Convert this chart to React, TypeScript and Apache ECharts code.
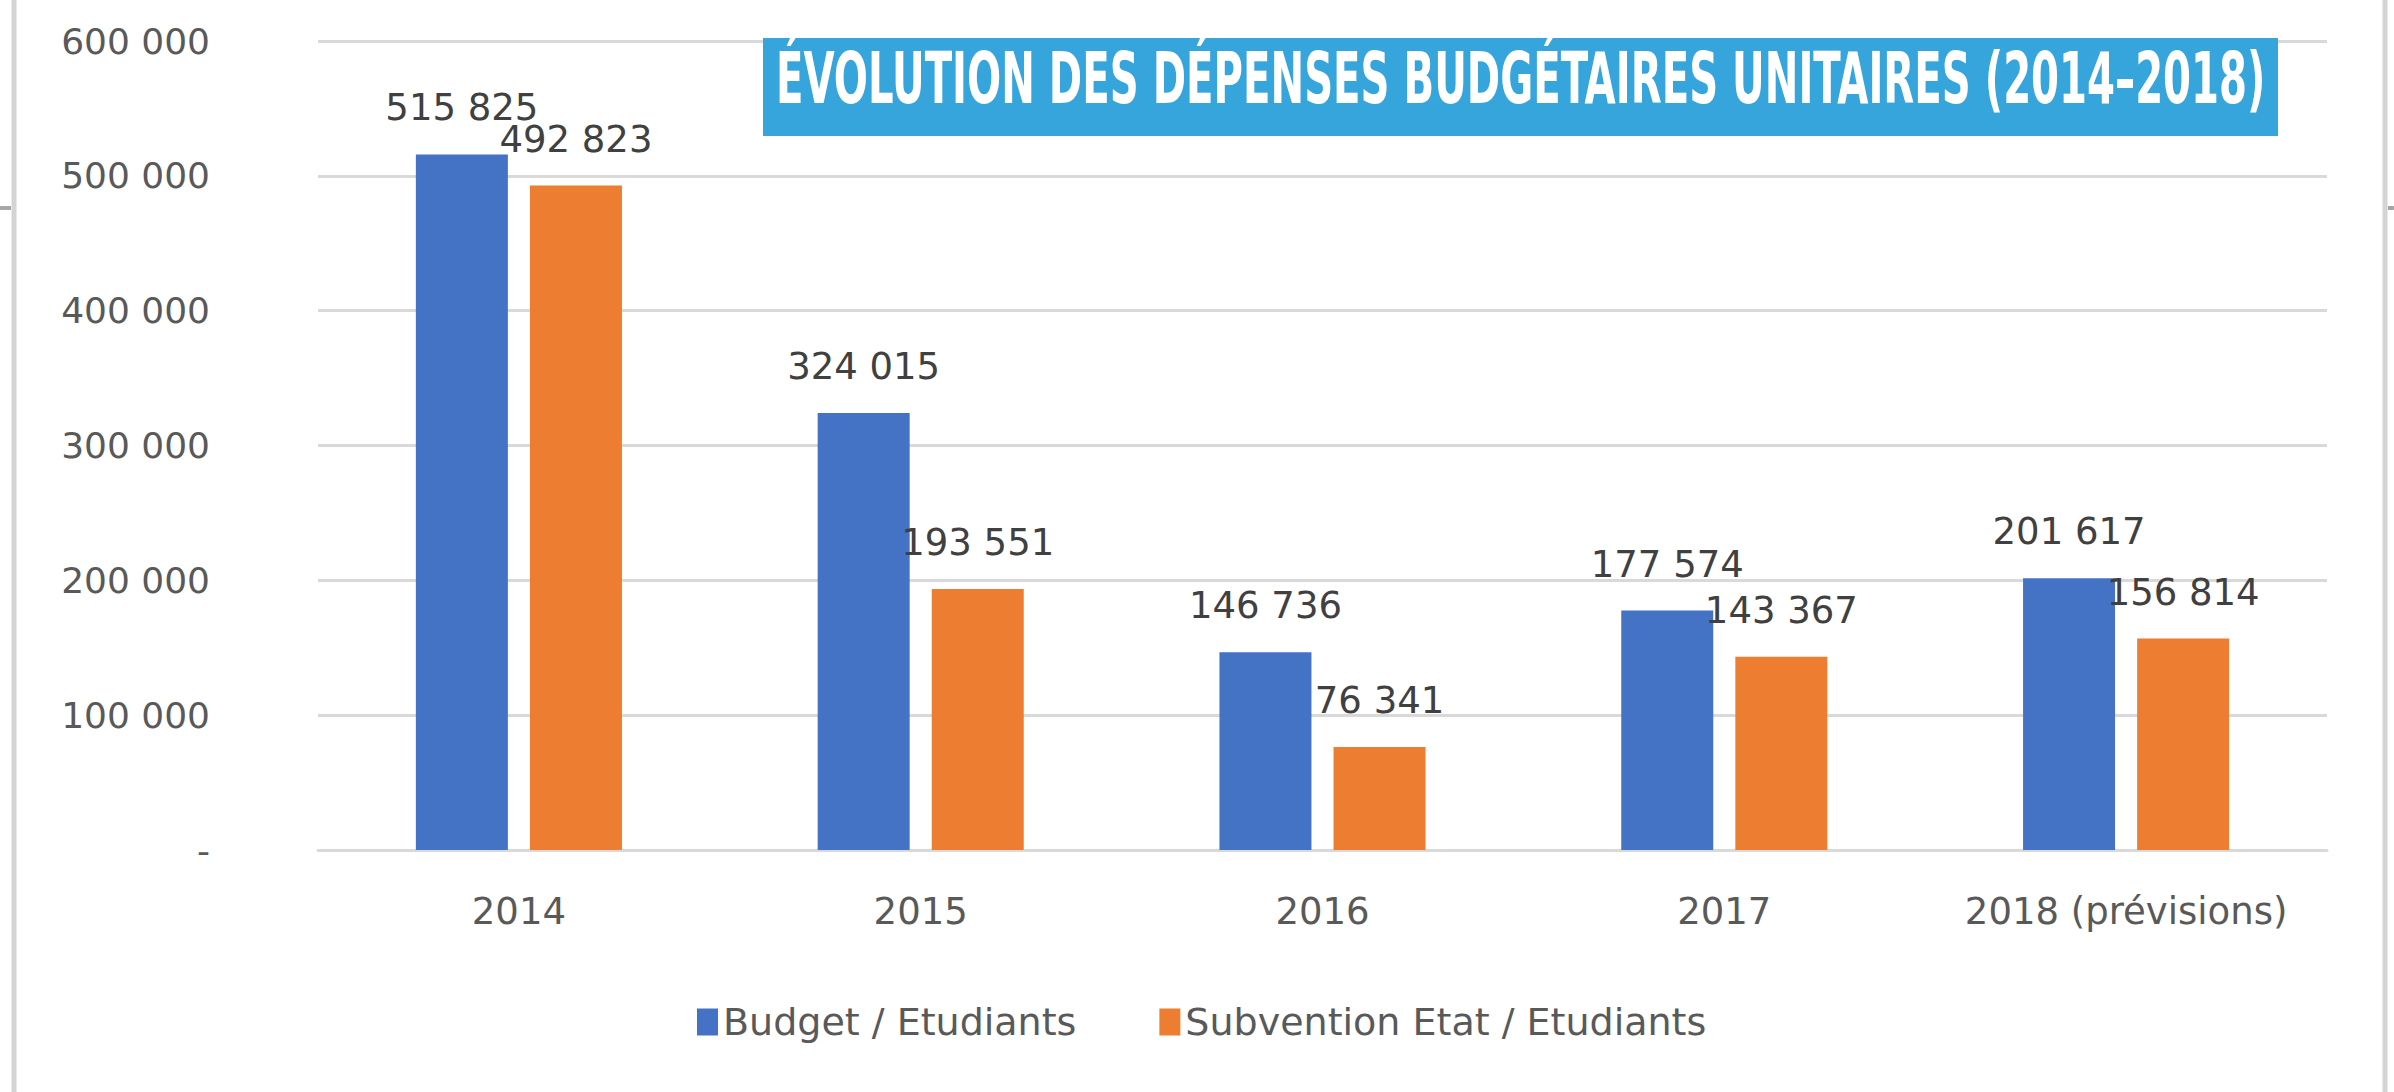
import React, { useEffect, useRef } from "react";
import * as echarts from "echarts";

const categories = ["2014", "2015", "2016", "2017", "2018 (prévisions)"];
const budgetEtudiants = [515825, 324015, 146736, 177574, 201617];
const subventionEtudiants = [492823, 193551, 76341, 143367, 156814];
const seriesNames = ["Budget / Etudiants", "Subvention Etat / Etudiants"];
const titleText = "ÉVOLUTION DES DÉPENSES BUDGÉTAIRES UNITAIRES (2014–2018)";

const fmt = (v: number) =>
  v === 0 ? "-" : String(Math.round(v)).replace(/\B(?=(\d{3})+(?!\d))/g, " ");

const FONT = "'DejaVu Sans', Verdana, sans-serif";
const TITLE_FONT = "'DejaVu Sans Condensed', 'Liberation Sans Narrow', sans-serif";

export default function App() {
  const ref = useRef<HTMLDivElement>(null);

  useEffect(() => {
    document.body.style.margin = "0";
    if (!ref.current) return;
    const chart = echarts.init(ref.current, undefined, { renderer: "svg" });

    const titleSize = 72;
    let titleScale = 0.6;
    try {
      const c = document.createElement("canvas").getContext("2d");
      if (c) {
        c.font = `bold ${titleSize}px ${TITLE_FONT}`;
        const w = c.measureText(titleText).width;
        if (w > 0) titleScale = 1490 / w;
      }
    } catch (e) {}

    const labelStyle = {
      show: true,
      position: "top",
      distance: 28,
      fontFamily: FONT,
      fontSize: 37,
      color: "#404040",
      formatter: (p: any) => fmt(p.value),
    };

    chart.setOption({
      animation: false,
      backgroundColor: "#ffffff",
      grid: { left: 318, right: 67, top: 41, bottom: 242, containLabel: false },
      legend: {
        left: 692,
        top: 998,
        itemWidth: 21,
        itemHeight: 27,
        itemGap: 83,
        icon: "rect",
        textStyle: { fontFamily: FONT, fontSize: 38, color: "#595959" },
        data: seriesNames,
      },
      xAxis: {
        type: "category",
        data: categories,
        axisTick: { show: false },
        axisLine: { lineStyle: { color: "#D9D9D9", width: 3 } },
        axisLabel: {
          interval: 0,
          hideOverlap: false,
          fontFamily: FONT,
          fontSize: 37,
          color: "#595959",
          margin: 43,
        },
      },
      yAxis: {
        type: "value",
        min: 0,
        max: 600000,
        interval: 100000,
        axisLine: { show: false },
        axisTick: { show: false },
        splitLine: { lineStyle: { color: "#D9D9D9", width: 3 } },
        axisLabel: {
          fontFamily: FONT,
          fontSize: 36,
          color: "#595959",
          margin: 108,
          formatter: (v: number) => fmt(v),
        },
      },
      series: [
        {
          name: seriesNames[0],
          type: "bar",
          data: budgetEtudiants,
          barWidth: 92,
          barGap: "24%",
          itemStyle: { color: "#4472C4" },
          label: labelStyle,
        },
        {
          name: seriesNames[1],
          type: "bar",
          data: subventionEtudiants,
          barWidth: 92,
          itemStyle: { color: "#ED7D31" },
          label: labelStyle,
        },
      ],
      graphic: [
        { type: "line", shape: { x1: 14, y1: 0, x2: 14, y2: 1092 }, style: { stroke: "#D4D4D4", lineWidth: 5 }, z: 10 },
        { type: "line", shape: { x1: 2385, y1: 0, x2: 2385, y2: 1092 }, style: { stroke: "#D4D4D4", lineWidth: 5 }, z: 10 },
        { type: "line", shape: { x1: 0, y1: 208, x2: 11, y2: 208 }, style: { stroke: "#A6A6A6", lineWidth: 4 }, z: 10 },
        { type: "line", shape: { x1: 2388, y1: 208, x2: 2394, y2: 208 }, style: { stroke: "#A6A6A6", lineWidth: 4 }, z: 10 },
        { type: "rect", shape: { x: 763, y: 38, width: 1515, height: 98 }, style: { fill: "#36A5DB" }, z: 20 },
        {
          type: "text",
          x: 776,
          y: 78,
          scaleX: titleScale,
          z: 21,
          style: {
            text: titleText,
            fill: "#ffffff",
            fontFamily: TITLE_FONT,
            fontWeight: "bold",
            fontSize: titleSize,
            align: "left",
            verticalAlign: "middle",
          },
        },
      ],
    });

    return () => chart.dispose();
  }, []);

  return (
    <div
      ref={ref}
      style={{ position: "absolute", left: 0, top: 0, width: 2394, height: 1092, background: "#fff" }}
    />
  );
}
